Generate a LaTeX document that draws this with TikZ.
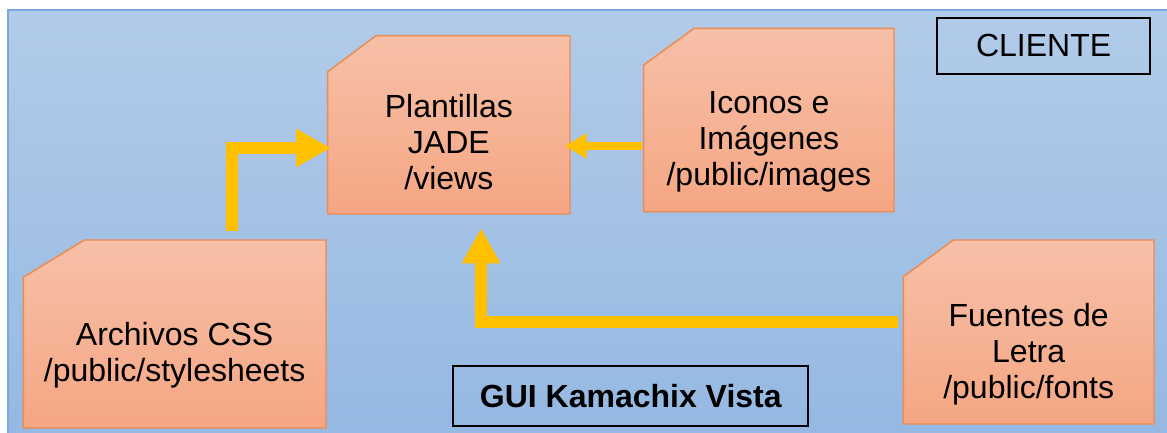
\documentclass[tikz,border=0pt]{standalone}
\usepackage{fontspec}
\setmainfont{Liberation Sans}
\usetikzlibrary{arrows.meta}
\definecolor{fondoA}{RGB}{178,203,233}
\definecolor{fondoB}{RGB}{148,184,226}
\definecolor{cajaA}{RGB}{247,192,168}
\definecolor{cajaB}{RGB}{245,166,131}
\definecolor{borde}{RGB}{237,139,80}
\definecolor{flecha}{RGB}{255,192,0}
\definecolor{marco}{RGB}{120,168,224}
\begin{document}
\begin{tikzpicture}[x=0.75pt,y=-0.75pt,
  zona/.style={inner sep=0pt,outer sep=0pt},
  caja/.style={draw=borde,line width=1.1pt,top color=cajaA,bottom color=cajaB},
  texto/.style={align=center,inner sep=0pt,font=\fontsize{24}{27}\selectfont},
  etiqueta/.style={draw=black,line width=1.4pt,inner sep=0pt,font=\fontsize{24}{28}\selectfont},
  grueso/.style={draw=flecha,line width=9pt,line join=miter,-{Triangle[length=26.25pt,width=27pt]}}]
\useasboundingbox (0,0) rectangle (1167,432);
\fill[top color=fondoA,bottom color=fondoB] (8,10) rectangle (1180,445);
\draw[marco,line width=1.2pt] (8,445) -- (8,10) -- (1180,10);
% areas of the four boxes
\node[zona,minimum width=181.7pt,minimum height=133.7pt] (plant) at (448.85,124.85) {};
\node[zona,minimum width=187.7pt,minimum height=137.55pt] (iconos) at (768.85,120) {};
\node[zona,minimum width=227pt,minimum height=141pt] (css) at (174.65,334) {};
\node[zona,minimum width=188pt,minimum height=138pt] (fuentes) at (1028.65,332) {};
\foreach \n/\cx/\cy in {plant/48.3/36,iconos/50.3/36.7,css/61/37.3,fuentes/50/36.7}
  \draw[caja]([shift={(0,\cy)}]\n.north west)--([shift={(\cx,0)}]\n.north west)--(\n.north east)--(\n.south east)--(\n.south west)--cycle;
\node[texto] (plant-t) at ([shift={(0,17.3)}]plant.center) {Plantillas\\JADE\\/views};
\node[texto] (iconos-t) at ([shift={(0,22.2)}]iconos.center) {Iconos e\\Imágenes\\/public/images};
\node[texto] (css-t) at ([shift={(0,21.2)}]css.center) {Archivos CSS\\/public/stylesheets};
\node[texto] (fuentes-t) at ([shift={(0,21.9)}]fuentes.center) {Fuentes de\\Letra\\/public/fonts};
\node[etiqueta,minimum width=159.5pt,minimum height=42pt] (cliente) at (1043.65,45.7) {CLIENTE};
\node[etiqueta,minimum width=266.25pt,minimum height=45.2pt,font=\fontsize{24}{28}\selectfont\bfseries] (gui) at (630.8,395.85) {GUI Kamachix Vista};
% arrows
\draw[grueso]([shift={(57.35,-9)}]css.north) |- ([shift={(3.3,23.15)}]plant.west);
\draw[grueso,line width=6.25pt,-{Triangle[length=16.5pt,width=18pt]}]([shift={(-2,25.85)}]iconos.west) -- ([shift={(-5.3,21)}]plant.east);
\draw[grueso]([shift={(-5.6,-10.15)}]fuentes.west) -| ([shift={(32.3,14.3)}]plant.south);
\end{tikzpicture}
\end{document}
